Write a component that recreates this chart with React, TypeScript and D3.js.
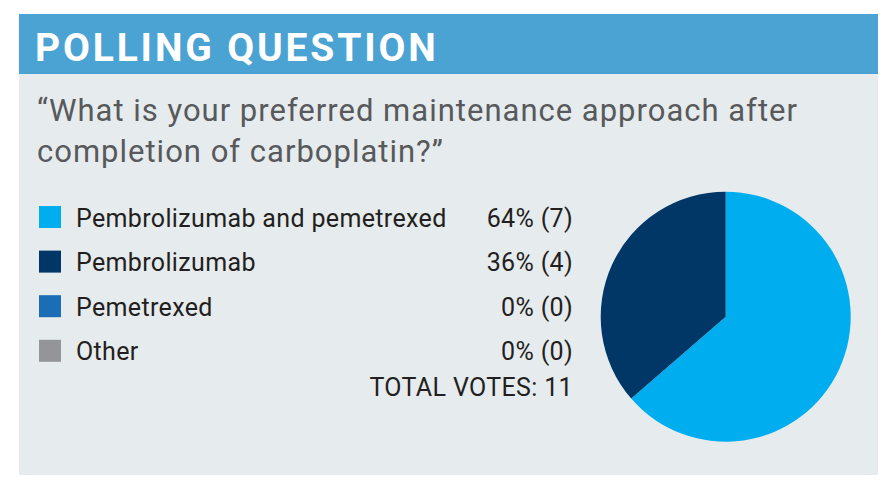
import * as d3 from "d3";
import { useEffect, useRef } from "react";

const categories = ["Pembrolizumab and pemetrexed", "Pembrolizumab", "Pemetrexed", "Other"];
const votes = [7, 4, 0, 0];
const percents = ["64%", "36%", "0%", "0%"];
const colors = ["#00AEEF", "#003767", "#1B6DB5", "#939598"];
const title = "POLLING QUESTION";
const questionLines = ["\u201CWhat is your preferred maintenance approach after", "completion of carboplatin?\u201D"];

const W = 894;
const H = 498;
const FONT = "Roboto, 'Noto Sans', sans-serif";

const App = () => {
    const svgRef = useRef<SVGSVGElement | null>(null);

    useEffect(() => {
        const svg = d3.select(svgRef.current);
        svg.selectAll("*").remove();

        // panel + header band
        svg.append("rect").attr("x", 19).attr("y", 14).attr("width", 859).attr("height", 461).attr("fill", "#E6EBEE");
        svg.append("rect").attr("x", 19).attr("y", 14).attr("width", 859).attr("height", 60).attr("fill", "#4BA3D3");

        svg.append("text")
            .attr("x", 35)
            .attr("y", 60.5)
            .attr("font-family", FONT)
            .attr("font-size", "39px")
            .attr("font-weight", "bold")
            .attr("letter-spacing", "2.85px")
            .attr("fill", "#ffffff")
            .text(title);

        // question
        svg.selectAll("text.q")
            .data(questionLines)
            .join("text")
            .attr("class", "q")
            .attr("x", 37)
            .attr("y", (_, i) => 120.7 + i * 41)
            .attr("font-family", FONT)
            .attr("font-size", "31px")
            .attr("letter-spacing", "1px")
            .attr("fill", "#58595B")
            .text(d => d);

        // legend rows
        const rowY = d3.scaleLinear().domain([0, 1]).range([217, 261.6]);
        const legend = svg.append("g");
        const rows = legend.selectAll("g")
            .data(categories)
            .join("g")
            .attr("transform", (_, i) => `translate(0, ${rowY(i)})`);

        rows.append("rect")
            .attr("x", 39)
            .attr("y", -11)
            .attr("width", 22)
            .attr("height", 22)
            .attr("fill", (_, i) => colors[i]);

        rows.append("text")
            .attr("x", 76)
            .attr("y", 9.5)
            .attr("font-family", FONT)
            .attr("font-size", "25px")
            .attr("letter-spacing", "0.35px")
            .attr("fill", "#231F20")
            .text(d => d);

        rows.append("text")
            .attr("x", 573)
            .attr("y", 9.5)
            .attr("text-anchor", "end")
            .attr("font-family", FONT)
            .attr("font-size", "25px")
            .attr("letter-spacing", "0.35px")
            .attr("fill", "#231F20")
            .text((_, i) => `${percents[i]} (${votes[i]})`);

        svg.append("text")
            .attr("x", 573)
            .attr("y", 395.7)
            .attr("text-anchor", "end")
            .attr("font-family", FONT)
            .attr("font-size", "25px")
            .attr("letter-spacing", "0.35px")
            .attr("fill", "#231F20")
            .text(`TOTAL VOTES: ${d3.sum(votes)}`);

        // pie
        const data = categories.map((c, i) => ({ label: c, value: votes[i], color: colors[i] }));
        const pie = d3.pie<{ label: string; value: number; color: string }>()
            .value(d => d.value)
            .sort(null);
        const arc = d3.arc<d3.PieArcDatum<{ label: string; value: number; color: string }>>()
            .innerRadius(0)
            .outerRadius(125);

        svg.append("g")
            .attr("transform", "translate(725.7, 316.7)")
            .selectAll("path")
            .data(pie(data).filter(d => d.value > 0))
            .join("path")
            .attr("d", arc)
            .attr("fill", d => d.data.color);
    }, []);

    return (
        <svg ref={svgRef} width={W} height={H} style={{ display: "block", position: "absolute", left: 0, top: 0 }} />
    );
};

export default App;
